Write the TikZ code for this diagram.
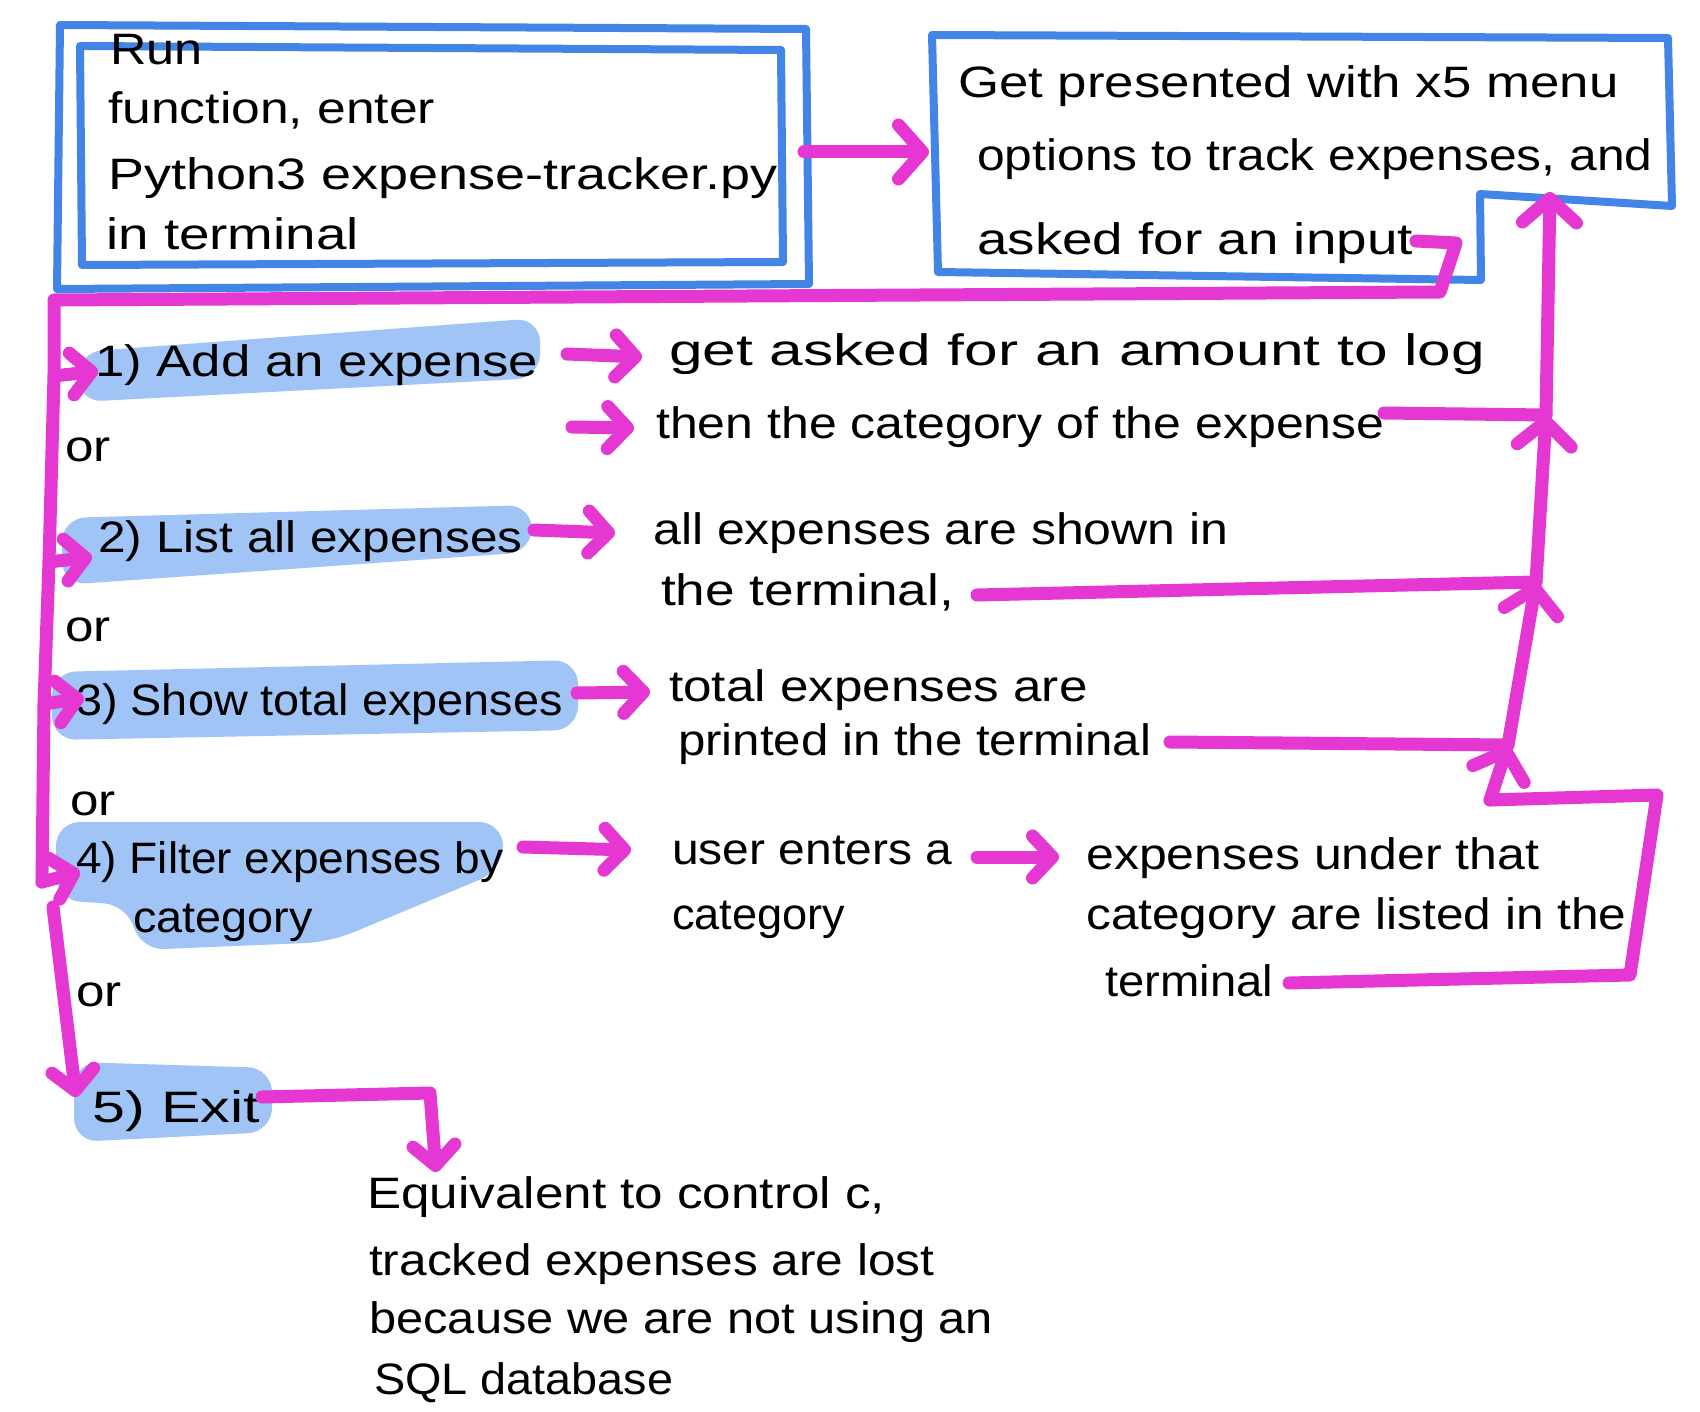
\documentclass[tikz,border=0pt]{standalone}
\usepackage{fontspec}
\setmainfont{Liberation Sans}
\usepackage{graphicx}
\usetikzlibrary{arrows.meta}
\definecolor{boxblue}{RGB}{66,133,230}
\definecolor{hlblue}{RGB}{160,196,245}
\definecolor{flowpink}{RGB}{229,56,210}
\newcommand\hsx[2]{\scalebox{#1}[1.1]{#2}}
\begin{document}
\begin{tikzpicture}[x=1pt,y=-1pt,
  txt/.style={anchor=base west, inner sep=0pt, font=\fontsize{40}{48}\selectfont},
  bluebox/.style={draw=boxblue, line width=8pt, line join=round, line cap=round},
  hl/.style={fill=hlblue, rounded corners=24pt},
  flow/.style={draw=flowpink, line width=13pt, line cap=round, line join=round},
  arr/.style={flow, -{Straight Barb[length=24pt,width=54pt,round]}},
  sarr/.style={flow, -{Straight Barb[length=20pt,width=42pt,round]}},
  guide/.style={draw=black, line width=2.5pt, line cap=round}]
\fill[white] (0,0) rectangle (1700,1412);
\useasboundingbox (0,0) rectangle (1700,1412);

% highlights
\fill[hl] (78,352) -- (540,318) -- (540,378) -- (78,402) -- cycle;
\fill[hl] (62,518) -- (532,505) -- (532,552) -- (62,585) -- cycle;
\fill[hl] (52,672) -- (578,660) -- (578,730) -- (52,740) -- cycle;
\fill[hl] (56,822) -- (503,822) -- (503,870) -- (330,942) -- (140,950) -- (128,905) -- (56,900) -- cycle;
\fill[hl] (74,1062) -- (272,1068) -- (272,1132) -- (74,1142) -- cycle;

% blue boxes
\draw[bluebox] (60,25) -- (806,29) -- (809,284) -- (57,289) -- cycle;
\draw[bluebox] (80,46) -- (781,50) -- (783,262) -- (82,265) -- cycle;
\draw[bluebox] (932,35) -- (1668,38) -- (1672,206) -- (1480,194) -- (1481,280) -- (938,272) -- cycle;

% box texts
\node[txt] (nrun)  at (110,65)  {\hsx{1.26}{Run}};
\node[txt] (nfunc) at (108,124) {\hsx{1.29}{function, enter}};
\node[txt] (npy)   at (108,190) {\hsx{1.35}{Python3 expense-tracker.py}};
\node[txt] (nterm) at (106,250) {\hsx{1.37}{in terminal}};
\node[txt] (nget)  at (958,98)  {\hsx{1.32}{Get presented with x5 menu}};
\node[txt] (nopt)  at (977,171) {\hsx{1.245}{options to track expenses, and}};
\node[txt] (nask)  at (977,255) {\hsx{1.37}{asked for an input}};

% options
\node[txt] (o1)  at (95,377)  {\hsx{1.32}{1) Add an expense}};
\node[txt] (o2)  at (98,552)  {\hsx{1.24}{2) List all expenses}};
\node[txt] (o3)  at (76,715)  {\hsx{1.17}{3) Show total expenses}};
\node[txt] (o4a) at (76,873)  {\hsx{1.15}{4) Filter expenses by}};
\node[txt] (o4b) at (133,932) {\hsx{1.17}{category}};
\node[txt] (o5)  at (92,1122) {\hsx{1.48}{5) Exit}};

\node[txt] (or1) at (65,461)  {\hsx{1.28}{or}};
\node[txt] (or2) at (65,641)  {\hsx{1.28}{or}};
\node[txt] (or3) at (70,815)  {\hsx{1.28}{or}};
\node[txt] (or4) at (76,1006) {\hsx{1.28}{or}};

% results
\node[txt] (r1a) at (669,366) {\hsx{1.51}{get asked for an amount to log}};
\node[txt] (r1b) at (656,438) {\hsx{1.25}{then the category of the expense}};
\node[txt] (r2a) at (653,544) {\hsx{1.25}{all expenses are shown in}};
\node[txt] (r2b) at (661,605) {\hsx{1.33}{the terminal,}};
\node[txt] (r3a) at (669,701) {\hsx{1.28}{total expenses are}};
\node[txt] (r3b) at (678,755) {\hsx{1.23}{printed in the terminal}};
\node[txt] (r4a) at (672,864) {\hsx{1.2}{user enters a}};
\node[txt] (r4b) at (672,929) {\hsx{1.13}{category}};
\node[txt] (r5a) at (1086,869) {\hsx{1.25}{expenses under that}};
\node[txt] (r5b) at (1086,929) {\hsx{1.24}{category are listed in the}};
\node[txt] (r5c) at (1105,996) {\hsx{1.18}{terminal}};

% exit text
\node[txt] (e1) at (367,1208) {\hsx{1.28}{Equivalent to control c,}};
\node[txt] (e2) at (369,1275) {\hsx{1.24}{tracked expenses are lost}};
\node[txt] (e3) at (369,1333) {\hsx{1.22}{because we are not using an}};
\node[txt] (e4) at (374,1394) {\hsx{1.17}{SQL database}};

% coordinates
\coordinate (b1e) at (804,152);
\coordinate (b2w) at (929,152);
\coordinate (inS) at (1416,241);
\coordinate (inE) at (1456,243);
\coordinate (inD) at (1440,292);
\coordinate (lt) at (54,300);
\coordinate (l1) at (54,376);
\coordinate (l2) at (49,562);
\coordinate (l3) at (44,704);
\coordinate (l4) at (42,882);
\coordinate (l4b) at (53,907);
\coordinate (t1) at (98,371);
\coordinate (t2) at (92,557);
\coordinate (t3) at (84,698);
\coordinate (t4) at (80,872);
\coordinate (t5) at (76,1097);
\coordinate (a1s) at (567,354); \coordinate (a1e) at (642,357);
\coordinate (a1bs) at (572,427); \coordinate (a1be) at (634,428);
\coordinate (a2s) at (534,530); \coordinate (a2e) at (615,533);
\coordinate (a3s) at (577,693); \coordinate (a3e) at (650,692);
\coordinate (a4s) at (523,847); \coordinate (a4e) at (631,850);
\coordinate (a5s) at (977,857); \coordinate (a5e) at (1059,857);
\coordinate (rt1) at (1384,413);
\coordinate (rt2) at (977,595);
\coordinate (rt3) at (1170,742);
\coordinate (rt4) at (1289,983);
\coordinate (lp1) at (1630,975);
\coordinate (lp2) at (1657,795);
\coordinate (v0) at (1490,800);
\coordinate (v1) at (1508,745);
\coordinate (v2) at (1536,582);
\coordinate (v3) at (1546,415);
\coordinate (v4) at (1550,192);
\coordinate (xs) at (262,1097);
\coordinate (xc) at (430,1093);
\coordinate (xe) at (436,1172);

% guide pencil line
\draw[guide] (58,296) -- (51,305) -- (51,397);

% flows
\draw[arr] (b1e) -- (b2w);
\draw[flow] (inS) -- (inE) -- (inD) -- (lt) -- (l1) -- (l2) -- (l3) -- (l4);
\draw[sarr] (l1) -- (t1);
\draw[sarr] (l2) -- (t2);
\draw[sarr] (l3) -- (t3);
\draw[sarr] (l4) -- (t4);
\draw[sarr] (l4b) -- (t5);

\draw[sarr] (a1s) -- (a1e);
\draw[sarr] (a1bs) -- (a1be);
\draw[sarr] (a2s) -- (a2e);
\draw[sarr] (a3s) -- (a3e);
\draw[sarr] (a4s) -- (a4e);
\draw[sarr] (a5s) -- (a5e);

\draw[flow] (rt1) -- (v3);
\draw[flow] (rt2) -- (v2);
\draw[flow] (rt3) -- (v1);
\draw[flow] (rt4) -- (lp1) -- (lp2) -- (v0);
\draw[arr] (v0) -- (v1);
\draw[arr] (v1) -- (v2);
\draw[arr] (v2) -- (v3);
\draw[arr] (v3) -- (v4);

\draw[sarr] (xs) -- (xc) -- (xe);
\end{tikzpicture}
\end{document}
